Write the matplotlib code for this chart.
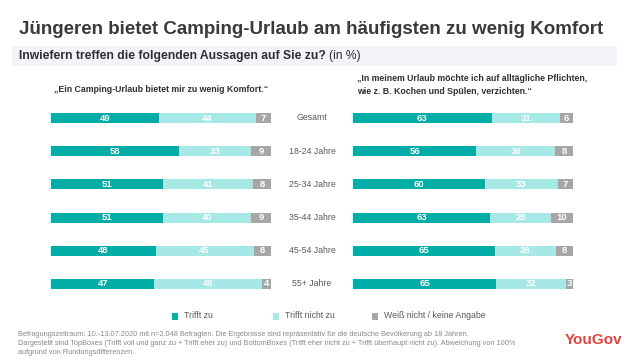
import matplotlib
matplotlib.use("Agg")
import matplotlib.pyplot as plt
from matplotlib.patches import Rectangle
import numpy as np

plt.rcParams['font.family'] = ['Liberation Sans', 'DejaVu Sans']

categories = ["Gesamt", "18-24 Jahre", "25-34 Jahre", "35-44 Jahre", "45-54 Jahre", "55+ Jahre"]
left_zu = [49, 58, 51, 51, 48, 47]
left_nicht = [44, 33, 41, 40, 45, 49]
left_weiss = [7, 9, 8, 9, 8, 4]
right_zu = [63, 56, 60, 63, 65, 65]
right_nicht = [31, 36, 33, 28, 28, 32]
right_weiss = [6, 8, 7, 10, 8, 3]
series_names = ["Trifft zu", "Trifft nicht zu", "Weiß nicht / keine Angabe"]
colors = ["#00ADA7", "#A6E8E6", "#A6A6A6"]

W, H = 642, 361
fig = plt.figure(figsize=(W / 100, H / 100), dpi=100)

def fx(px):
    return px / W

def fy(py):
    return 1 - py / H

# Title
fig.text(fx(19), fy(30), "Jüngeren bietet Camping-Urlaub am häufigsten zu wenig Komfort",
         fontsize=13.5, fontweight="bold", color="#3a3a3a", va="center", ha="left")

# Subtitle band
fig.patches.append(Rectangle((fx(12), fy(66)), fx(605), 20 / H, transform=fig.transFigure,
                             facecolor="#F3F3F8", edgecolor="none", zorder=0))
t = fig.text(fx(19), fy(56.5), "Inwiefern treffen die folgenden Aussagen auf Sie zu?",
             fontsize=8.7, fontweight="bold", color="#2f2f2f", va="center", ha="left")
fig.canvas.draw()
bb = t.get_window_extent()
fig.text(bb.x1 / W + fx(3), fy(56.5), "(in %)", fontsize=8.7, color="#2f2f2f", va="center", ha="left")

# Column headers
fig.text(fx(161), fy(90), "\u201eEin Camping-Urlaub bietet mir zu wenig Komfort.\u201c",
         fontsize=6.3, fontweight="bold", color="#2f2f2f", va="center", ha="center")
fig.text(fx(357), fy(85),
         "\u201eIn meinem Urlaub möchte ich auf alltägliche Pflichten,\nwie z. B. Kochen und Spülen, verzichten.\u201c",
         fontsize=6.3, fontweight="bold", color="#2f2f2f", va="center", ha="left", linespacing=1.6)

row_top = 118 - 16.6
row_h = 6 * 33.2

def draw_panel(x0, zu, nicht, weiss):
    ax = fig.add_axes([fx(x0), fy(row_top + row_h), 220 / W, row_h / H])
    data = np.array([zu, nicht, weiss], dtype=float)
    totals = data.sum(axis=0)
    norm = data / totals * 100
    y = np.arange(len(categories))
    left = np.zeros(len(categories))
    for k in range(3):
        ax.barh(y, norm[k], left=left, height=0.3, color=colors[k], edgecolor="none")
        for i in range(len(categories)):
            ax.text(left[i] + norm[k][i] / 2, y[i], f"{int(data[k][i])}", ha="center", va="center",
                    fontsize=6.8, fontweight="bold", color="white")
        left += norm[k]
    ax.set_xlim(0, 100)
    ax.set_ylim(len(categories) - 0.5, -0.5)
    ax.axis("off")
    return ax

draw_panel(51, left_zu, left_nicht, left_weiss)
draw_panel(353, right_zu, right_nicht, right_weiss)

for i, c in enumerate(categories):
    fig.text(fx(312), fy(118 + 33.2 * i), c, fontsize=6.3, color="#595959", ha="center", va="center")

# Legend
leg_x = [172, 273, 372]
for k in range(3):
    fig.patches.append(Rectangle((fx(leg_x[k]), fy(319.5)), 6 / W, 7 / H, transform=fig.transFigure,
                                 facecolor=colors[k], edgecolor="none"))
    fig.text(fx(leg_x[k] + 12), fy(316), series_names[k], fontsize=6.3, color="#595959",
             ha="left", va="center")

# Footer
footer = ("Befragungszeitraum: 10.-13.07.2020 mit n=2.048 Befragten. Die Ergebnisse sind repräsentativ für die deutsche Bevölkerung ab 18 Jahren.\n"
          "Dargestellt sind TopBoxes (Trifft voll und ganz zu + Trifft eher zu) und BottomBoxes (Trifft eher nicht zu + Trifft überhaupt nicht zu). Abweichung von 100%\n"
          "aufgrund von Rundungsdifferenzen.")
fig.text(fx(18), fy(343.5), footer, fontsize=5.3, color="#8a8a8a", ha="left", va="center", linespacing=1.35)

# Logo
fig.text(fx(594), fy(340.5), "YouGov", fontsize=11, fontweight="bold", color="#E5403A",
         ha="center", va="center")

fig.savefig("out.png", dpi=100)
